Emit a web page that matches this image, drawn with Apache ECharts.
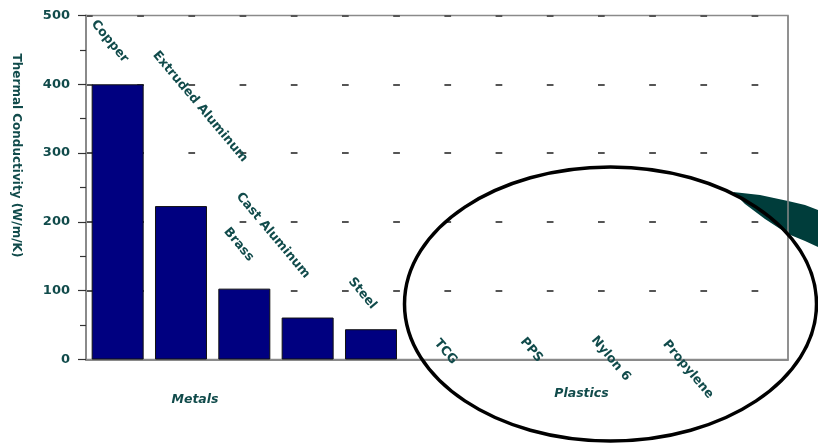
<!DOCTYPE html>
<html>
<head>
<meta charset="utf-8">
<script src="https://cdn.jsdelivr.net/npm/echarts@6/dist/echarts.min.js"></script>
<style>
  html, body { margin: 0; padding: 0; background: #ffffff; }
  #chart { width: 818px; height: 445px; }
</style>
</head>
<body>
<div id="chart"></div>
<script>
// Thermal conductivity of metals (W/m/K); plastics are listed without visible bars
const metals = ['Copper', 'Extruded Aluminum', 'Brass', 'Cast Aluminum', 'Steel'];
const metalValues = [400, 223, 103, 61, 44];
const plastics = ['TCG', 'PPS', 'Nylon 6', 'Propylene'];
const yTicks = [0, 100, 200, 300, 400, 500];
const groupNames = ['Metals', 'Plastics'];
const yTitle = 'Thermal Conductivity (W/m/K)';

// ---- layout ----
const FONT = 'DejaVu Sans';
const TEXT = '#114b4b';
const plot = { left: 86, top: 15.5, right: 788, bottom: 359.5 };
const slotWidth = 63.33;
const labelAngle = -50 * Math.PI / 180;
// anchor (start of text midline) for each rotated name, in the same order as metals then plastics
const nameAnchors = [
  [93.5, 22], [155, 53], [226, 229.5], [238.5, 194.5], [350.5, 279.5],
  [436.5, 341], [522.5, 339.5], [593.5, 338], [665, 342]
];
const groupAnchors = [[195, 400], [581.5, 393.5]];

const chart = echarts.init(document.getElementById('chart'), null, { renderer: 'canvas' });

const plotWidth = plot.right - plot.left;
const xMax = plotWidth / slotWidth;

const allNames = metals.concat(plastics);
const nameTexts = allNames.map((name, i) => ({
  type: 'text',
  x: nameAnchors[i][0],
  y: nameAnchors[i][1],
  rotation: labelAngle,
  z: 20,
  style: {
    text: name,
    fill: TEXT,
    font: 'bold 12.6px "' + FONT + '"',
    textAlign: 'left',
    textVerticalAlign: 'middle'
  }
}));

const groupTexts = groupNames.map((g, i) => ({
  type: 'text',
  x: groupAnchors[i][0],
  y: groupAnchors[i][1],
  z: 20,
  style: {
    text: g,
    fill: TEXT,
    font: 'italic bold 12.5px "' + FONT + '"',
    textAlign: 'center',
    textVerticalAlign: 'middle'
  }
}));

const option = {
  backgroundColor: '#ffffff',
  animation: false,
  grid: {
    left: plot.left,
    top: plot.top,
    right: 818 - plot.right,
    bottom: 445 - plot.bottom,
    show: true,
    borderColor: '#8a8a8a',
    borderWidth: 1.5,
    backgroundColor: 'transparent'
  },
  xAxis: {
    type: 'value',
    min: 0,
    max: xMax,
    axisLine: { show: true, onZero: false, lineStyle: { color: '#8a8a8a', width: 2 } },
    axisTick: { show: false },
    axisLabel: { show: false },
    splitLine: { show: false }
  },
  yAxis: {
    type: 'value',
    min: yTicks[0],
    max: yTicks[yTicks.length - 1],
    interval: yTicks[1] - yTicks[0],
    axisLine: { show: true, lineStyle: { color: '#8a8a8a', width: 2 } },
    axisTick: { show: true, length: 8, lineStyle: { color: '#333333', width: 1.2 } },
    minorTick: { show: true, splitNumber: 2, length: 6, lineStyle: { color: '#333333', width: 1.2 } },
    axisLabel: {
      margin: 16,
      color: TEXT,
      fontFamily: FONT,
      fontWeight: 'bold',
      fontSize: 13
    },
    splitLine: {
      show: true,
      lineStyle: { color: '#555555', width: 2, type: [6.7, 44.5], dashOffset: 0 }
    }
  },
  series: [{
    type: 'bar',
    name: 'Metals',
    barWidth: 52,
    data: metalValues.map((v, i) => [i + 0.5, v]),
    itemStyle: { color: '#000080', borderColor: '#111111', borderWidth: 1 },
    z: 3
  }],
  graphic: {
    elements: [
      // dark callout tail entering from the right edge
      {
        type: 'polygon',
        z: 5,
        shape: {
          points: [
            [733, 192], [760, 195], [788, 201], [805, 205], [818, 210],
            [818, 247], [805, 241], [788, 234], [765, 219], [745, 204]
          ]
        },
        style: { fill: '#003d3b' }
      },
      // right edge of the plot frame, kept above the callout
      {
        type: 'line',
        z: 25,
        shape: { x1: plot.right, y1: plot.top, x2: plot.right, y2: plot.bottom },
        style: { stroke: '#8a8a8a', lineWidth: 1.5 }
      },
      // ring around the plastics
      {
        type: 'ellipse',
        z: 30,
        shape: { cx: 610.5, cy: 304, rx: 206, ry: 137 },
        style: { fill: null, stroke: '#000000', lineWidth: 3.5 }
      },
      {
        type: 'text',
        x: 16.5,
        y: 155.5,
        rotation: -Math.PI / 2,
        z: 20,
        style: {
          text: yTitle,
          fill: TEXT,
          font: 'bold 12px "' + FONT + '"',
          textAlign: 'center',
          textVerticalAlign: 'middle'
        }
      }
    ].concat(nameTexts, groupTexts)
  }
};

chart.setOption(option);
</script>
</body>
</html>
